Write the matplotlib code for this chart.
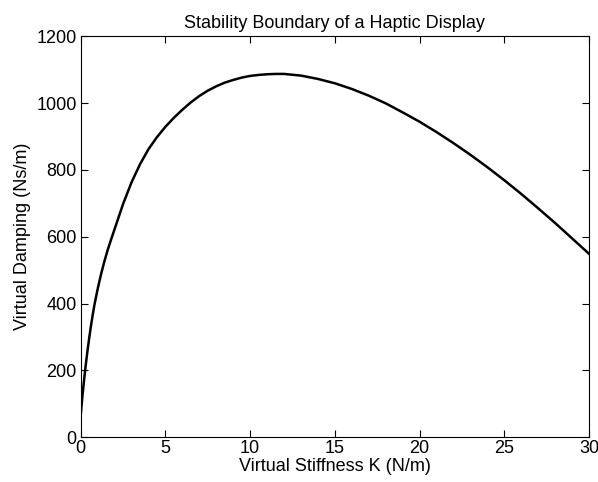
import matplotlib
matplotlib.use("Agg")
import matplotlib.pyplot as plt

stiffness = [0, 0.1, 0.2, 0.3, 0.4, 0.5, 0.6, 0.7, 0.8, 1.0, 1.2, 1.4, 1.6, 1.8,
             2.0, 2.5, 3.0, 3.5, 4.0, 4.5, 5.0, 5.5, 6.0, 6.5, 7.0, 7.5, 8.0,
             8.5, 9.0, 9.5, 10.0, 10.5, 11.0, 11.5, 12.0, 13, 14, 15, 16, 17,
             18, 19, 20, 21, 22, 23, 24, 25, 26, 27, 28, 29, 30]
damping = [67, 123, 173, 218, 259, 297, 332, 364, 394, 444, 488, 527, 562, 593,
           623, 698, 763, 817, 862, 898, 929, 956, 980, 1002, 1021, 1037, 1050,
           1061, 1069, 1076, 1081, 1084, 1086, 1087, 1087, 1082, 1072, 1059, 1042, 1022,
           999, 972, 944, 913, 880, 845, 808, 769, 728, 685, 641, 595, 549]

xticks = [0, 5, 10, 15, 20, 25, 30]
yticks = [0, 200, 400, 600, 800, 1000, 1200]

plt.rcParams['font.family'] = ['Liberation Sans', 'DejaVu Sans']

fig = plt.figure(figsize=(5.98, 4.82), dpi=100)
ax = fig.add_axes([0.135, 0.0927, 0.85, 0.8323])
ax.plot(stiffness, damping, color='black', linewidth=1.8)
ax.set_xlim(0, 30)
ax.set_ylim(0, 1200)
ax.set_xticks(xticks)
ax.set_yticks(yticks)
ax.tick_params(direction='in', length=5, width=0.8, labelsize=13,
               top=True, right=True, pad=3)
ax.tick_params(axis='x', pad=2)
for s in ax.spines.values():
    s.set_linewidth(0.8)
ax.set_title('Stability Boundary of a Haptic Display', fontsize=13, pad=6)
ax.set_xlabel('Virtual Stiffness K (N/m)', fontsize=13, labelpad=1)
ax.set_ylabel('Virtual Damping (Ns/m)', fontsize=13, labelpad=4)
fig.savefig('out.png', dpi=100)
